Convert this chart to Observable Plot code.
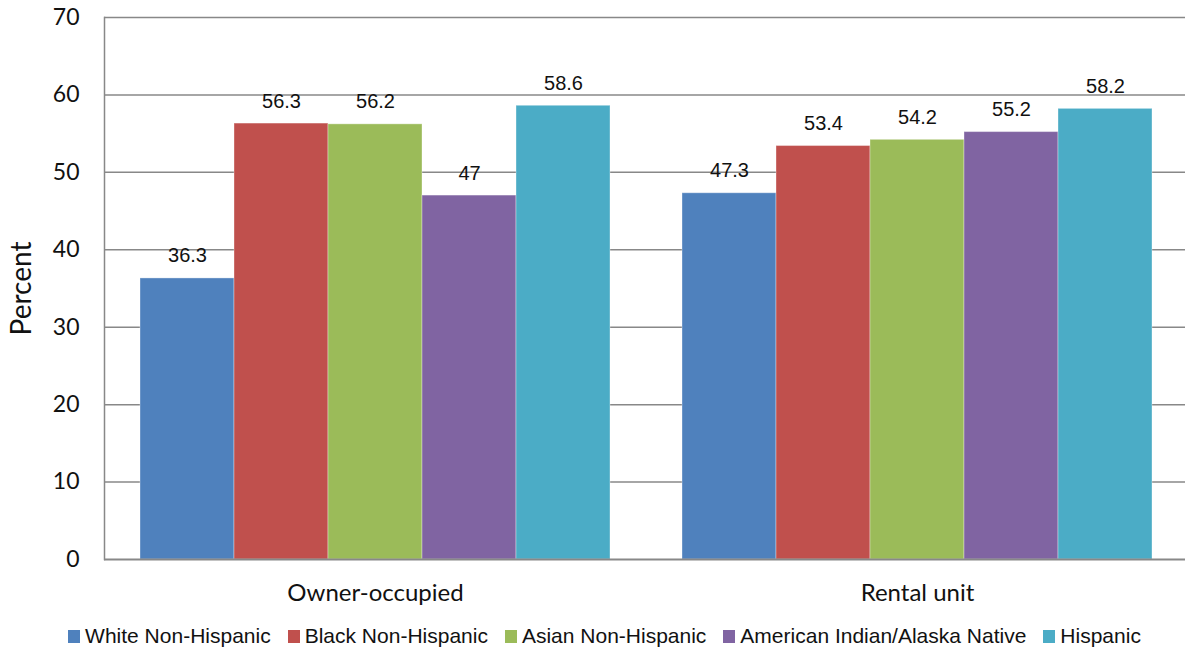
<!DOCTYPE html>
<html>
<head>
<meta charset="utf-8">
<script src="https://cdn.jsdelivr.net/npm/d3@7"></script>
<script src="https://cdn.jsdelivr.net/npm/@observablehq/plot@0.6"></script>
<style>
  html, body { margin: 0; padding: 0; background: #fff; overflow: hidden; }
  #chart { position: relative; width: 1185px; }
  #chart svg { display: block; overflow: visible; }
  #legend { display: flex; justify-content: center; align-items: center; gap: 17px;
    font-family: "Liberation Sans", Arial, sans-serif; font-size: 21px; color: #111;
    margin-top: 12px; padding-left: 24px; }
  .item { display: flex; align-items: center; }
  .sw { width: 12px; height: 13px; margin-right: 5px; }
</style>
</head>
<body>
<div id="chart"></div>
<div id="legend"></div>
<script>
const tenures = ["Owner-occupied", "Rental unit"];
const races = ["White Non-Hispanic", "Black Non-Hispanic", "Asian Non-Hispanic", "American Indian/Alaska Native", "Hispanic"];
const ownerValues = [36.3, 56.3, 56.2, 47, 58.6];
const rentalValues = [47.3, 53.4, 54.2, 55.2, 58.2];
const colors = ["#4F81BD", "#C0504D", "#9BBB59", "#8064A2", "#4BACC6"];
const yTicks = [0, 10, 20, 30, 40, 50, 60, 70];
const gridTicks = [10, 20, 30, 40, 50, 60, 70];

const data = [];
tenures.forEach((t, ti) => {
  const vals = ti === 0 ? ownerValues : rentalValues;
  races.forEach((r, ri) => data.push({tenure: t, race: r, value: vals[ri]}));
});

const calibri = "Lato, 'Open Sans', sans-serif";
const arial = "'Liberation Sans', Arial, sans-serif";

const chart = Plot.plot({
  width: 1185,
  height: 612,
  marginLeft: 104,
  marginRight: -3,
  marginTop: 17,
  marginBottom: 53,
  style: {background: "transparent", color: "#111", overflow: "visible"},
  fx: {domain: tenures, padding: 0, label: null},
  x: {domain: races, paddingInner: 0, paddingOuter: 0.37, axis: null},
  y: {domain: [0, 70], ticks: yTicks, label: null},
  color: {domain: races, range: colors},
  marks: [
    Plot.ruleY(gridTicks, {stroke: "#888", strokeWidth: 1.5}),
    Plot.barY(data, {fx: "tenure", x: "race", y: "value", fill: "race", stroke: "#fff", strokeOpacity: 0.35, strokeWidth: 1}),
    Plot.text(data, {fx: "tenure", x: "race", y: "value", text: d => String(d.value), dy: -16, lineAnchor: "bottom", fontSize: 20, fontFamily: arial, fill: "#111"}),
    Plot.ruleY([0], {stroke: "#888", strokeWidth: 2}),
    Plot.axisY(yTicks, {tickSize: 0, tickPadding: 25, fontSize: 23, fontFamily: calibri, label: null}),
    Plot.axisY([], {tickSize: 0, label: "Percent", labelAnchor: "center", labelArrow: "none", labelOffset: 93, fontSize: 28, fontFamily: calibri}),
    Plot.axisFx({anchor: "bottom", tickSize: 0, tickPadding: 24, fontSize: 24, fontFamily: calibri, label: null}),
    Plot.frame({anchor: "left", fx: () => tenures[0], stroke: "#888", strokeWidth: 1.5})
  ]
});
document.getElementById("chart").appendChild(chart);

const legend = document.getElementById("legend");
races.forEach((r, i) => {
  const it = document.createElement("div");
  it.className = "item";
  const sw = document.createElement("span");
  sw.className = "sw";
  sw.style.background = colors[i];
  const tx = document.createElement("span");
  tx.textContent = r;
  it.appendChild(sw);
  it.appendChild(tx);
  legend.appendChild(it);
});
</script>
</body>
</html>
